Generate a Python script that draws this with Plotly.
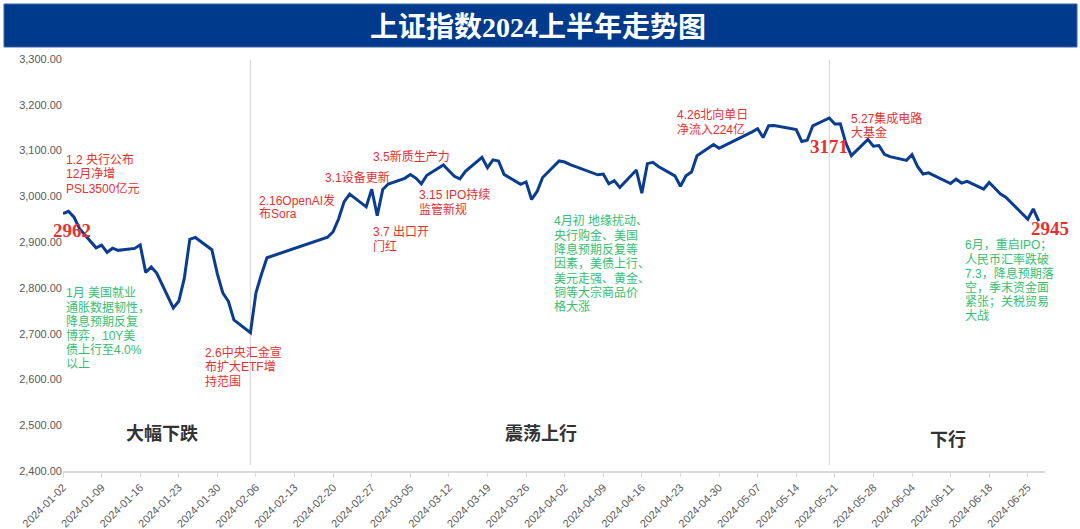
import plotly.graph_objects as go

# ---- data: SSE Composite daily close, H1 2024 ----
dates = [
    "2024-01-02","2024-01-03","2024-01-04","2024-01-05","2024-01-08","2024-01-09","2024-01-10","2024-01-11","2024-01-12",
    "2024-01-15","2024-01-16","2024-01-17","2024-01-18","2024-01-19","2024-01-22","2024-01-23","2024-01-24","2024-01-25","2024-01-26",
    "2024-01-29","2024-01-30","2024-01-31","2024-02-01","2024-02-02","2024-02-05","2024-02-06","2024-02-07","2024-02-08",
    "2024-02-19","2024-02-20","2024-02-21","2024-02-22","2024-02-23","2024-02-26","2024-02-27","2024-02-28","2024-02-29",
    "2024-03-01","2024-03-04","2024-03-05","2024-03-06","2024-03-07","2024-03-08","2024-03-11","2024-03-12","2024-03-13",
    "2024-03-14","2024-03-15","2024-03-18","2024-03-19","2024-03-20","2024-03-21","2024-03-22","2024-03-25","2024-03-26",
    "2024-03-27","2024-03-28","2024-03-29","2024-04-01","2024-04-02","2024-04-03","2024-04-08","2024-04-09","2024-04-10",
    "2024-04-11","2024-04-12","2024-04-15","2024-04-16","2024-04-17","2024-04-18","2024-04-19","2024-04-22","2024-04-23",
    "2024-04-24","2024-04-25","2024-04-26","2024-04-29","2024-04-30","2024-05-06","2024-05-07","2024-05-08","2024-05-09",
    "2024-05-10","2024-05-13","2024-05-14","2024-05-15","2024-05-16","2024-05-17","2024-05-20","2024-05-21","2024-05-22",
    "2024-05-23","2024-05-24","2024-05-27","2024-05-28","2024-05-29","2024-05-30","2024-05-31","2024-06-03","2024-06-04",
    "2024-06-05","2024-06-06","2024-06-07","2024-06-11","2024-06-12","2024-06-13","2024-06-14","2024-06-17","2024-06-18",
    "2024-06-19","2024-06-20","2024-06-21","2024-06-24","2024-06-25","2024-06-26","2024-06-27",
]
closes = [
    2962.28,2967.25,2954.35,2929.18,2887.54,2893.25,2877.70,2886.65,2881.98,
    2886.29,2893.99,2833.62,2845.78,2832.28,2756.34,2770.74,2820.77,2906.11,2910.22,
    2883.36,2830.53,2788.55,2770.74,2730.15,2702.19,2789.49,2829.70,2865.90,
    2910.54,2922.73,2950.96,2988.36,3004.88,2977.02,3015.48,2957.85,3015.17,
    3027.02,3039.31,3047.79,3039.93,3027.40,3046.02,3068.46,3055.94,3043.83,
    3038.23,3054.64,3084.93,3062.76,3079.69,3077.11,3048.03,3026.31,3031.48,
    2993.14,3010.66,3041.17,3077.38,3074.96,3069.30,3047.05,3048.54,3027.34,
    3034.25,3019.47,3057.38,3007.07,3071.38,3074.22,3065.26,3044.60,3021.98,
    3044.82,3052.90,3088.64,3113.04,3104.82,3140.72,3147.74,3128.48,3154.32,
    3154.55,3148.02,3145.77,3119.90,3122.40,3154.03,3171.15,3157.97,3158.54,
    3116.39,3088.87,3124.04,3109.57,3111.02,3091.68,3086.81,3078.49,3091.20,
    3065.40,3048.79,3051.28,3028.05,3037.47,3028.92,3032.63,3015.89,3030.25,
    3018.05,3005.44,2998.14,2963.10,2950.00,2972.53,2945.85,
]

tick_dates = ["2024-01-02","2024-01-09","2024-01-16","2024-01-23","2024-01-30","2024-02-06","2024-02-13",
              "2024-02-20","2024-02-27","2024-03-05","2024-03-12","2024-03-19","2024-03-26","2024-04-02",
              "2024-04-09","2024-04-16","2024-04-23","2024-04-30","2024-05-07","2024-05-14","2024-05-21",
              "2024-05-28","2024-06-04","2024-06-11","2024-06-18","2024-06-25"]
y_ticks = [2400, 2500, 2600, 2700, 2800, 2900, 3000, 3100, 3200, 3300]
phase_breaks = ["2024-02-05", "2024-05-20"]

title_parts = ["上证指数", "2024", "上半年走势图"]

RED = "#E8302F"
GREEN = "#35BE72"
BLUE = "#0A3D8F"
CJK = "Noto Sans CJK SC, Arial, sans-serif"
TXT = "Liberation Sans, Noto Sans CJK SC, Arial, sans-serif"
SERIF = "Liberation Serif, Times New Roman, serif"

# layout geometry (pixels)
ML, MR, MT, MB = 63, 35, 59, 58
W, H = 1080, 529
PW, PH = W - ML - MR, H - MT - MB


def px(xp):
    return (xp - ML) / PW


def py(yp):
    return (H - MB - yp) / PH


# event notes: (x, first-line y, lines, colour)
notes = [
    ("2024-01-02 06:00", 3080, ["1.2 央行公布", "12月净增", "PSL3500亿元"], RED),
    ("2024-01-02 06:00", 2789, ["1月 美国就业", "通胀数据韧性，", "降息预期反复", "博弈，10Y美", "债上行至4.0%", "以上"], GREEN),
    ("2024-01-27 08:00", 2658, ["2.6中央汇金宣", "布扩大ETF增", "持范围"], RED),
    ("2024-02-06 04:00", 2992, ["2.16OpenAI发", "布Sora"], RED),
    ("2024-02-18 02:00", 3042, ["3.1设备更新"], RED),
    ("2024-02-26 22:00", 3086, ["3.5新质生产力"], RED),
    ("2024-02-26 22:00", 2922, ["3.7 出口开", "门红"], RED),
    ("2024-03-06 06:00", 3003, ["3.15 IPO持续", "监管新规"], RED),
    ("2024-03-30 18:00", 2946, ["4月初 地缘扰动、", "央行购金、美国", "降息预期反复等", "因素，美债上行、", "美元走强、黄金、", "铜等大宗商品价", "格大涨"], GREEN),
    ("2024-04-22 02:00", 3178, ["4.26北向单日", "净流入224亿"], RED),
    ("2024-05-23 12:00", 3171, ["5.27集成电路", "大基金"], RED),
    ("2024-06-13 06:00", 2894, ["6月，重启IPO；", "人民币汇率跌破", "7.3，降息预期落", "空，季末资金面", "紧张；关税贸易", "大战"], GREEN),
]
key_values = [("2024-01-03 14:00", 2926, "2962"), ("2024-05-20 00:00", 3108, "3171"), ("2024-06-28 00:00", 2929, "2945")]
phases = [("2024-01-19 22:00", 2485, "大幅下跌"), ("2024-03-28 15:00", 2485, "震荡上行"), ("2024-06-10 14:00", 2472, "下行")]

fig = go.Figure()
fig.add_trace(go.Scatter(x=dates, y=closes, mode="lines",
                         line=dict(color=BLUE, width=3), hoverinfo="x+y", showlegend=False))

for d in phase_breaks:
    fig.add_shape(type="line", xref="x", yref="y", x0=d, x1=d, y0=2413, y1=3298,
                  line=dict(color="#D9D9D9", width=1.2), layer="below")

anns = []
LS = 14.3
for x, y, lines, col in notes:
    for i, t in enumerate(lines):
        anns.append(dict(x=x, y=y, xref="x", yref="y", text=t, showarrow=False,
                         xanchor="left", yanchor="middle", yshift=-i * LS,
                         font=dict(family=TXT, size=12, color=col)))
for x, y, t in key_values:
    anns.append(dict(x=x, y=y, xref="x", yref="y", text="<b>%s</b>" % t, showarrow=False,
                     xanchor="center", yanchor="middle", xshift=0,
                     font=dict(family=SERIF, size=19, color=RED)))
# the last value label sits just right of the axis end
anns[-1]["xshift"] = 6
for x, y, t in phases:
    anns.append(dict(x=x, y=y, xref="x", yref="y", text="<b>%s</b>" % t, showarrow=False,
                     xanchor="center", yanchor="middle",
                     font=dict(family=CJK, size=18, color="#333333")))

# title band
fig.add_shape(type="rect", xref="paper", yref="paper",
              x0=px(4), x1=px(1077), y0=py(47), y1=py(4),
              fillcolor="#003A8C", line=dict(color="#3A64A8", width=1))
title_html = "<b>%s<span style=\"font-family:%s\">%s</span>%s</b>" % (
    title_parts[0], SERIF, title_parts[1], title_parts[2])
anns.append(dict(x=px(538), y=py(25.5), xref="paper", yref="paper",
                 text=title_html, showarrow=False, xanchor="center", yanchor="middle",
                 font=dict(family="Noto Sans CJK SC, sans-serif", size=28, color="white")))

fig.update_layout(
    width=W, height=H,
    margin=dict(l=ML, r=MR, t=MT, b=MB, autoexpand=False),
    paper_bgcolor="white", plot_bgcolor="white",
    annotations=anns,
    xaxis=dict(type="date", range=["2024-01-02", "2024-06-28 03:00"], automargin=False,
               tickvals=tick_dates, ticktext=tick_dates, tickangle=-45,
               showgrid=False, showline=True, linecolor="#D9D9D9", linewidth=1.5,
               ticks="outside", ticklen=4, tickcolor="#D9D9D9",
               tickfont=dict(family="Liberation Sans, Arial, sans-serif", size=11, color="#595959"),
               zeroline=False),
    yaxis=dict(range=[2400, 3300], tickvals=y_ticks, tickformat=",.2f", automargin=False,
               showgrid=False, showline=False, zeroline=False, ticks="",
               tickfont=dict(family="Liberation Sans, Arial, sans-serif", size=11, color="#595959")),
)

fig.write_html("out.html", config={"displayModeBar": False},
               post_script="document.body.style.margin='0';document.body.style.overflow='hidden';")
